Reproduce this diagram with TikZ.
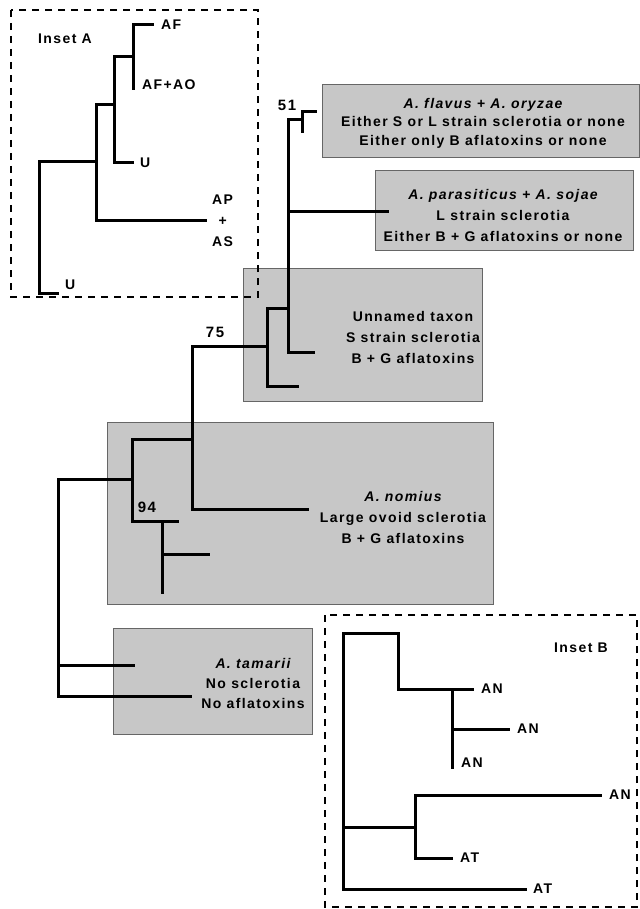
\documentclass[tikz,border=0pt]{standalone}
\usepackage{fontspec}
\setmainfont{Liberation Sans}[LetterSpace=10]
\usetikzlibrary{positioning}

\begin{document}
\begin{tikzpicture}[x=1pt, y=-1pt,
  branch/.style={line width=3pt, line cap=rect},
  inset/.style={line width=1.5pt, dash pattern=on 7pt off 6pt},
  clade/.style={fill=black!22, draw=black!60, line width=0.8pt},
  tip/.style={font=\fontsize{14}{21}\selectfont\bfseries, inner sep=2pt},
  info/.style={font=\fontsize{14}{21}\selectfont\bfseries, align=center, inner sep=0pt},
  boot/.style={font=\fontsize{15}{16}\selectfont\bfseries, inner sep=0pt}]
  \useasboundingbox (0,0) rectangle (639,909);

  % draw shaded clade boxes
  \draw[clade] (322,84) rectangle (639,157);
  \draw[clade] (375,170) rectangle (633,250);
  \draw[clade] (243,268) rectangle (482,401);
  \draw[clade] (107,422) rectangle (493,604);
  \draw[clade] (113,628) rectangle (312,734);

  % draw dashed inset frames
  \draw[inset] (11,10) rectangle (258,297);
  \draw[inset] (325,615) rectangle (637,907);

  % main tree
  \coordinate (m_root) at (58,479);
  \coordinate (m_a) at (132,479);
  \coordinate (m_nom) at (192,439);
  \coordinate (m_75) at (267,346);
  \coordinate (m_up) at (288,308);
  \coordinate (m_51) at (302,120);
  \coordinate (m_94) at (162,521);
  \coordinate (t_fl1) at (315,112);
  \coordinate (t_fl2) at (302,132);
  \coordinate (t_par) at (387,212);
  \coordinate (t_unn1) at (313,352);
  \coordinate (t_unn2) at (297,386);
  \coordinate (t_nom1) at (307,509);
  \coordinate (t_nom2) at (177,521);
  \coordinate (t_nom3) at (208,554);
  \coordinate (t_nom4) at (162,592);
  \coordinate (t_tam1) at (133,665);
  \coordinate (t_tam2) at (190,696);
  \draw[branch] (m_root) -- (m_a);
  \draw[branch] (m_root) |- (t_tam1);
  \draw[branch] (m_root) |- (t_tam2);
  \draw[branch] (m_a) |- (m_nom);
  \draw[branch] (m_a) |- (m_94);
  \draw[branch] (m_94) -- (t_nom2);
  \draw[branch] (m_94) |- (t_nom3);
  \draw[branch] (m_94) -- (t_nom4);
  \draw[branch] (m_nom) |- (m_75);
  \draw[branch] (m_nom) |- (t_nom1);
  \draw[branch] (m_75) |- (m_up);
  \draw[branch] (m_75) |- (t_unn2);
  \draw[branch] (m_up) |- (m_51);
  \draw[branch] (m_up) |- (t_par);
  \draw[branch] (m_up) |- (t_unn1);
  \draw[branch] (m_51) |- (t_fl1);
  \draw[branch] (m_51) -- (t_fl2);

  % bootstrap values
  \node[boot] (bs_51) at (287,105) {51};
  \node[boot] (bs_75) at (215,332) {75};
  \node[boot] (bs_94) at (147,507) {94};

  % clade texts
  \node[info, font=\fontsize{14}{18.5}\selectfont\bfseries] (txt_flavus) at (483,123)
    {{\itshape A. flavus + A. oryzae}\\Either S or L strain sclerotia or none\\Either only B aflatoxins or none};
  \node[info] (txt_paras) at (503,215)
    {{\itshape A. parasiticus + A. sojae}\\L strain sclerotia\\Either B + G aflatoxins or none};
  \node[info] (txt_unn) at (413,337) {Unnamed taxon\\S strain sclerotia\\B + G aflatoxins};
  \node[info] (txt_nom) at (403,517) {{\itshape A. nomius}\\Large ovoid sclerotia\\B + G aflatoxins};
  \node[info, font=\fontsize{14}{20}\selectfont\bfseries] (txt_tam) at (253,683)
    {{\itshape A. tamarii}\\No sclerotia\\No aflatoxins};

  % inset A
  \node[tip] (lab_insetA) at (65,39) {Inset A};
  \coordinate (a_root) at (39,162);
  \coordinate (a_1) at (96,162);
  \coordinate (a_2) at (114,105);
  \coordinate (a_3) at (133,57);
  \coordinate (a_u1) at (57,293);
  \coordinate (a_apas) at (205,221);
  \coordinate (a_u2) at (132,163);
  \coordinate (a_af) at (152,25);
  \coordinate (a_afao) at (133,89);
  \draw[branch] (a_root) -- (a_1);
  \draw[branch] (a_root) |- (a_u1);
  \draw[branch] (a_1) |- (a_2);
  \draw[branch] (a_1) |- (a_apas);
  \draw[branch] (a_2) |- (a_3);
  \draw[branch] (a_2) |- (a_u2);
  \draw[branch] (a_3) |- (a_af);
  \draw[branch] (a_3) -- (a_afao);
  \node[tip, right=7pt of a_af] (lab_af) {AF};
  \node[tip, right=7pt of a_afao, yshift=4pt] (lab_afao) {AF+AO};
  \node[tip, right=6pt of a_u2] (lab_u2) {U};
  \node[tip, align=center, right=5pt of a_apas] (lab_apas) {AP\\+\\AS};
  \node[tip, right=6pt of a_u1, yshift=8pt] (lab_u1) {U};

  % inset B
  \node[tip] (lab_insetB) at (581,648) {Inset B};
  \coordinate (b_root) at (343,633);
  \coordinate (b_1) at (398,633);
  \coordinate (b_2) at (452,689);
  \coordinate (b_3) at (415,827);
  \coordinate (b_an1) at (472,689);
  \coordinate (b_an2) at (508,729);
  \coordinate (b_an3) at (452,767);
  \coordinate (b_an4) at (600,795);
  \coordinate (b_at1) at (451,858);
  \coordinate (b_at2) at (525,889);
  \draw[branch] (b_root) -- (b_1);
  \draw[branch] (b_1) |- (b_2);
  \draw[branch] (b_2) -- (b_an1);
  \draw[branch] (b_2) |- (b_an2);
  \draw[branch] (b_2) -- (b_an3);
  \draw[branch] (b_root) |- (b_3);
  \draw[branch] (b_3) |- (b_an4);
  \draw[branch] (b_3) |- (b_at1);
  \draw[branch] (b_root) |- (b_at2);
  \node[tip, right=7pt of b_an1] (lab_an1) {AN};
  \node[tip, right=7pt of b_an2] (lab_an2) {AN};
  \node[tip, right=7pt of b_an3, yshift=4pt] (lab_an3) {AN};
  \node[tip, right=7pt of b_an4] (lab_an4) {AN};
  \node[tip, right=7pt of b_at1] (lab_at1) {AT};
  \node[tip, right=6pt of b_at2] (lab_at2) {AT};
\end{tikzpicture}
\end{document}
